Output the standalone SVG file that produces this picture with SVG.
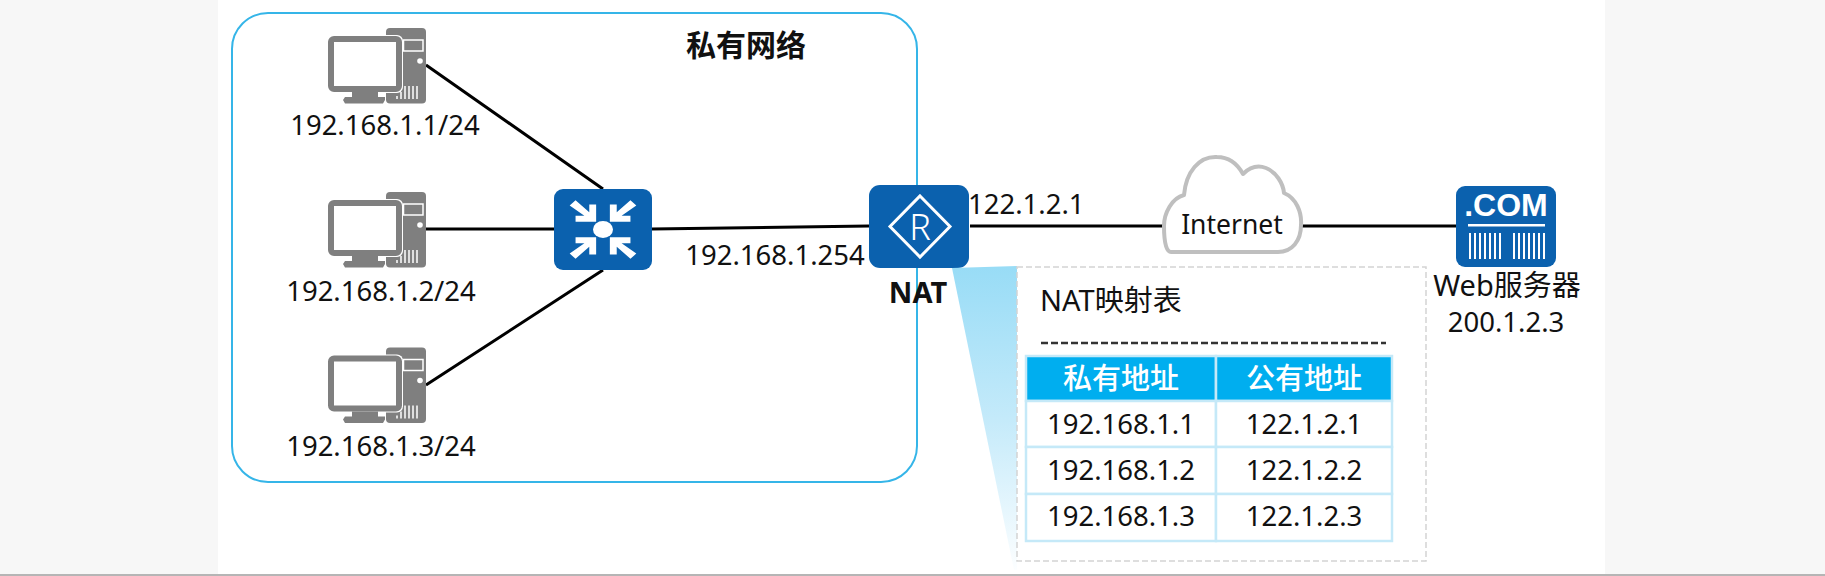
<svg xmlns="http://www.w3.org/2000/svg" width="1825" height="576" viewBox="0 0 1825 576">
<style>
text{font-family:"Noto Sans","Noto Sans CJK SC",sans-serif;font-size:27.500px;fill:#111}
.m{text-anchor:middle}
.b{font-weight:700}
.w{fill:#fff}
.cjk{font-size:29px}
.conn{stroke:#000;stroke-width:3;fill:none}
.cell{fill:#fff;stroke:#c5e9f8;stroke-width:2.500}
.head{fill:#00aeef;stroke:#c5e9f8;stroke-width:2.500}
.blue{fill:#0b61ae}
</style>
<defs>
<linearGradient id="beam" x1="0" y1="0" x2="0" y2="1"><stop offset="0" stop-color="#98dcf6"/><stop offset=".5" stop-color="#c4eafa"/><stop offset="1" stop-color="#fcfeff"/></linearGradient>
<g id="pc">
<rect x="386" y="28" width="40" height="75.500" rx="4" fill="#7f7f7f"/>
<rect x="403.500" y="40" width="19.500" height="11" fill="none" stroke="#fff" stroke-width="1.500"/>
<circle cx="420" cy="61" r="2.800" fill="#fff"/>
<path d="M397 99V96M401 99V92M405 99V86M409 99V86M413 99V86M417 99V86" stroke="#fff" stroke-width="1.500"/>
<rect x="327" y="35" width="76" height="58" rx="6" fill="#fff"/>
<rect x="331" y="39" width="68" height="50" rx="3" fill="#fff" stroke="#7f7f7f" stroke-width="6"/>
<path d="M352 92h26v5h-26zM345 97h40v3l-2 3.500h-38l-2-3.500z" fill="#7f7f7f"/>
</g>
<g id="arrows" fill="#fff">
<path d="M-34-28l6-6 14 14 0-9 7 0 0 20-21 0 0-7 9 0zM34-28l-6-6-14 14 0-9-7 0 0 20 21 0 0-7-9 0zM-34 28l6 6 14-14 0 9 7 0 0-20-21 0 0 7 9 0zM34 28l-6 6-14-14 0 9-7 0 0-20 21 0 0 7-9 0z" transform="scale(.98 .86)"/>
</g>
</defs>
<rect width="1825" height="576" fill="#f7f7f7"/>
<rect x="218" y="0" width="1387" height="574" fill="#fff"/>
<rect x="0" y="574" width="1825" height="2" fill="#b5b5b5"/>
<g id="private-network">
<rect x="232" y="13" width="685" height="469" rx="36" fill="none" stroke="#35b5e8" stroke-width="2"/>
<text class="b m" x="746" y="56" style="font-size:30px">私有网络</text>
</g>
<g id="connectors">
<path class="conn" d="M426 65L603 189M426 229H554M426 385L603 270M652 229L869 226M970 226H1163M1302 226H1456"/>
</g>
<g id="pc1"><use href="#pc"/><text class="m" x="385" y="135">192.168.1.1/24</text></g>
<g id="pc2"><use href="#pc" y="164"/><text class="m" x="381" y="301">192.168.1.2/24</text></g>
<g id="pc3"><use href="#pc" y="319.500"/><text class="m" x="381" y="456">192.168.1.3/24</text></g>
<g id="switch">
<rect class="blue" x="554" y="189" width="98" height="81" rx="9"/>
<use href="#arrows" x="603" y="229.500"/>
<ellipse cx="603" cy="229.500" rx="10" ry="8.500" fill="#fff"/>
</g>
<g id="nat-router">
<rect class="blue" x="869" y="185" width="100" height="83" rx="11"/>
<path d="M920 196L950 226.500L920 257L890 226.500Z" fill="none" stroke="#fff" stroke-width="3"/>
<text class="m w" x="920" y="240" style="font-size:36px;font-weight:300">R</text>
<text class="b m" x="918" y="303" style="font-size:29px">NAT</text>
</g>
<text id="ip-lan" class="m" x="775" y="265">192.168.1.254</text>
<text id="ip-wan" x="968" y="214">122.1.2.1</text>
<g id="internet">
<path d="M1171 252C1167 252 1164 245 1164 226C1164 213 1172 198 1184 195C1186 172 1199 156 1217 157C1230 157 1238 165 1243 174C1250 167 1258 165 1266 168C1276 172 1283 183 1284 193C1296 198 1302 212 1301 225C1301 241 1292 252 1278 252Z" fill="#fff" stroke="#bfbfbf" stroke-width="4" stroke-linejoin="round"/>
<text class="m" x="1232" y="234" style="font-size:26.500px">Internet</text>
</g>
<g id="web-server">
<rect class="blue" x="1456" y="186" width="100" height="81" rx="9"/>
<text class="m w" x="1506" y="216" style="font-family:'Liberation Sans',sans-serif;font-size:32px;font-weight:700">.COM</text>
<rect x="1468" y="224" width="77" height="2.500" fill="#fff"/>
<path d="M1470 233V259M1475 233V259M1480 233V259M1485 233V259M1490 233V259M1495 233V259M1500 233V259M1514 233V259M1519 233V259M1524 233V259M1529 233V259M1534 233V259M1539 233V259M1544 233V259" stroke="#fff" stroke-width="2"/>
<text class="m cjk" x="1507" y="296">Web服务器</text>
<text class="m" x="1506" y="332">200.1.2.3</text>
</g>
<g id="nat-table">
<polygon points="952,268 1017,266 1017,570 1014,570" fill="url(#beam)"/>
<rect x="1017" y="267" width="409" height="294" fill="#fff" stroke="#d4d4d4" stroke-width="1.500" stroke-dasharray="6 3"/>
<text class="cjk" x="1040" y="311">NAT映射表</text>
<path d="M1041 343H1386" stroke="#333" stroke-width="2.500" stroke-dasharray="7 3"/>
<rect class="head" x="1026" y="356" width="190" height="45"/><rect class="head" x="1216" y="356" width="176" height="45"/>
<rect class="cell" x="1026" y="401" width="190" height="46"/><rect class="cell" x="1216" y="401" width="176" height="46"/>
<rect class="cell" x="1026" y="447" width="190" height="47"/><rect class="cell" x="1216" y="447" width="176" height="47"/>
<rect class="cell" x="1026" y="494" width="190" height="47"/><rect class="cell" x="1216" y="494" width="176" height="47"/>
<text class="m w cjk" x="1121" y="389" style="font-weight:500">私有地址</text><text class="m w cjk" x="1304" y="389" style="font-weight:500">公有地址</text>
<text class="m" x="1121" y="434">192.168.1.1</text><text class="m" x="1304" y="434">122.1.2.1</text>
<text class="m" x="1121" y="480">192.168.1.2</text><text class="m" x="1304" y="480">122.1.2.2</text>
<text class="m" x="1121" y="526">192.168.1.3</text><text class="m" x="1304" y="526">122.1.2.3</text>
</g>
</svg>
